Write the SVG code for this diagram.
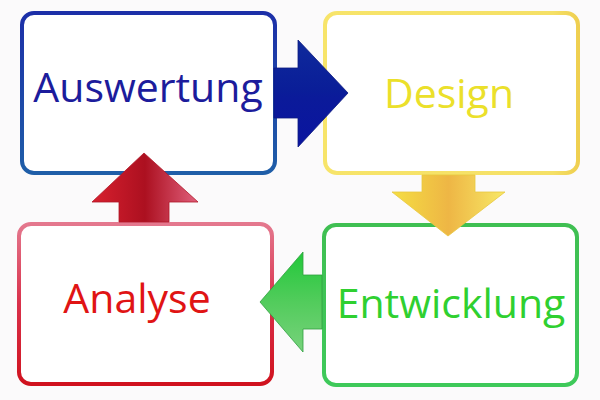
<svg xmlns="http://www.w3.org/2000/svg" width="600" height="400" viewBox="0 0 600 400">
<defs>
<linearGradient id="gBlueStroke" x1="0" y1="0" x2="0" y2="1"><stop offset="0" stop-color="#1c2fa8"/><stop offset="1" stop-color="#1f5ea8"/></linearGradient>
<linearGradient id="gYellowStroke" x1="0" y1="0" x2="1" y2="0"><stop offset="0" stop-color="#f7e46a"/><stop offset="0.9" stop-color="#f5e066"/><stop offset="1" stop-color="#efcf50"/></linearGradient>
<linearGradient id="gRedStroke" x1="0" y1="0" x2="0" y2="1"><stop offset="0" stop-color="#e4788e"/><stop offset="0.5" stop-color="#d9304a"/><stop offset="1" stop-color="#d0121e"/></linearGradient>
<linearGradient id="gGreenStroke" x1="0" y1="0" x2="0" y2="1"><stop offset="0" stop-color="#3fbf52"/><stop offset="1" stop-color="#3ec95a"/></linearGradient>
<linearGradient id="gBlueArrow" x1="0" y1="0" x2="0" y2="1"><stop offset="0" stop-color="#0f2a9c"/><stop offset="0.45" stop-color="#0a1e98"/><stop offset="0.55" stop-color="#0b1a9a"/><stop offset="1" stop-color="#0a14a0"/></linearGradient>
<linearGradient id="gYellowArrow" x1="0" y1="0" x2="1" y2="0"><stop offset="0" stop-color="#f5de42"/><stop offset="0.5" stop-color="#eeb645"/><stop offset="1" stop-color="#f7e866"/></linearGradient>
<linearGradient id="gRedArrow" x1="0" y1="0" x2="1" y2="0"><stop offset="0" stop-color="#d8202e"/><stop offset="0.5" stop-color="#ac1020"/><stop offset="1" stop-color="#e0607c"/></linearGradient>
<linearGradient id="gGreenArrow" x1="0" y1="0" x2="0" y2="1"><stop offset="0" stop-color="#22c83a"/><stop offset="0.5" stop-color="#52cc5c"/><stop offset="1" stop-color="#78d27c"/></linearGradient>
</defs>
<style>
.box{fill:#ffffff;stroke-width:4}
.lbl{font-family:"Open Sans","Noto Sans","DejaVu Sans",sans-serif;font-size:41px;text-anchor:middle}
</style>
<rect width="600" height="400" fill="#fbfafb"/>
<g id="node-auswertung">
<rect class="box" x="22" y="13" width="253" height="160" rx="12" stroke="url(#gBlueStroke)"/>
<text class="lbl" x="148" y="102" fill="#1c1c9c">Auswertung</text>
</g>
<g id="node-design">
<rect class="box" x="325" y="13" width="253" height="160" rx="12" stroke="url(#gYellowStroke)"/>
<text class="lbl" x="449" y="108" fill="#ebe02a">Design</text>
</g>
<g id="node-analyse">
<rect class="box" x="19" y="224" width="253" height="160" rx="12" stroke="url(#gRedStroke)"/>
<text class="lbl" x="137" y="313" fill="#e01414">Analyse</text>
</g>
<g id="node-entwicklung">
<rect class="box" x="324" y="225" width="253" height="160" rx="12" stroke="url(#gGreenStroke)"/>
<text class="lbl" x="451" y="318" fill="#2fd030">Entwicklung</text>
</g>
<g id="connectors" stroke-width="0.8" stroke-linejoin="miter">
<polygon points="274,68 298,68 298,40 348,93 298,147 298,118 274,118" fill="url(#gBlueArrow)" stroke="#0c1a80"/>
<polygon points="422,175 475,175 475,192 505,192 448,236 392,192 422,192" fill="url(#gYellowArrow)" stroke="#e8c840"/>
<polygon points="322,275 303,275 303,252 260,302 303,352 303,329 322,329" fill="url(#gGreenArrow)" stroke="#30a040"/>
<polygon points="119,222 119,202 92,202 144,153 198,202 169,202 169,222" fill="url(#gRedArrow)" stroke="#b01828"/>
</g>
</svg>
